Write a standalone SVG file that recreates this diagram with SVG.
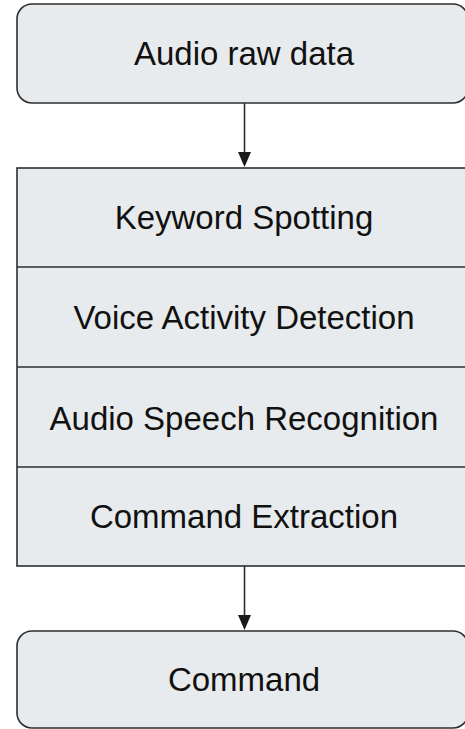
<svg xmlns="http://www.w3.org/2000/svg" width="465" height="729" viewBox="0 0 465 729">
<defs>
<style>
.box{fill:#e8ebed;stroke:#2e2e2e;stroke-width:1.6}
.div{stroke:#2e2e2e;stroke-width:1.6}
.lbl{font-family:"Liberation Sans",Arial,Helvetica,sans-serif;font-size:33px;fill:#111;text-anchor:middle}
.conn{stroke:#2e2e2e;stroke-width:1.6;fill:none}
.head{fill:#1a1a1a}
</style>
</defs>
<rect width="465" height="729" fill="#ffffff"/>
<g id="audio-raw-data">
<rect class="box" x="17" y="4" width="451" height="99" rx="15" ry="15"/>
<text class="lbl" x="244" y="65">Audio raw data</text>
</g>
<g id="pipeline">
<rect class="box" x="17" y="168" width="460" height="398"/>
<line class="div" x1="17" y1="267" x2="477" y2="267"/>
<line class="div" x1="17" y1="367" x2="477" y2="367"/>
<line class="div" x1="17" y1="467" x2="477" y2="467"/>
<g id="keyword-spotting"><text class="lbl" x="244" y="229">Keyword Spotting</text></g>
<g id="voice-activity-detection"><text class="lbl" x="244" y="329">Voice Activity Detection</text></g>
<g id="audio-speech-recognition"><text class="lbl" x="244" y="429.5">Audio Speech Recognition</text></g>
<g id="command-extraction"><text class="lbl" x="244" y="528">Command Extraction</text></g>
</g>
<g id="command">
<rect class="box" x="17" y="631" width="451" height="97" rx="15" ry="15"/>
<text class="lbl" x="244" y="691">Command</text>
</g>
<g id="connectors">
<line class="conn" x1="244.5" y1="103" x2="244.5" y2="153"/>
<path class="head" d="M238,152 L251,152 L244.5,167 Z"/>
<line class="conn" x1="244.5" y1="566" x2="244.5" y2="616"/>
<path class="head" d="M238,615 L251,615 L244.5,630 Z"/>
</g>
</svg>
